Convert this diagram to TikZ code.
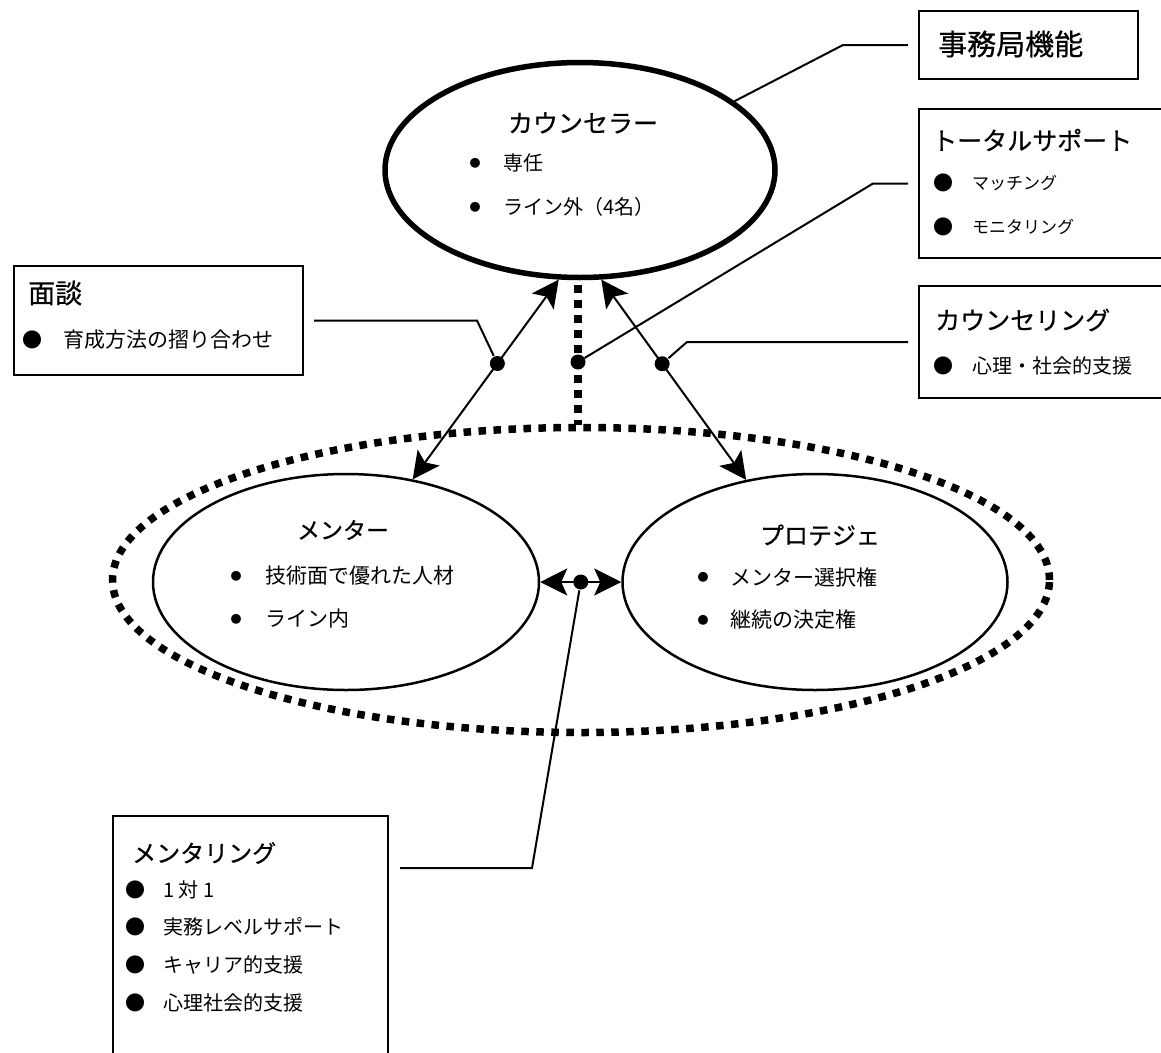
\documentclass[tikz,border=0pt]{standalone}
\usepackage{fontspec}
\setmainfont{Liberation Serif}
\newfontfamily\jp{Noto Sans CJK JP}
\newfontfamily\jpb[FakeBold=0.6]{Noto Sans CJK JP}
\usetikzlibrary{arrows.meta,shapes.geometric}
\begin{document}
\begin{tikzpicture}[x=1pt,y=-1pt,
  box/.style={draw, line width=2pt, inner sep=0pt, anchor=north west},
  conn/.style={line width=2pt},
  dotted7/.style={line width=7.5pt, dash pattern=on 7.5pt off 7.5pt},
  ell/.style={ellipse, draw, inner sep=0pt},
  txt/.style={inner sep=0pt, anchor=west, font=\jp\fontsize{#1}{#1}\selectfont},
  ttl/.style={inner sep=0pt, anchor=west, font=\jpb\fontsize{#1}{#1}\selectfont},
  ctxt/.style={inner sep=0pt, font=\jpb\fontsize{#1}{#1}\selectfont},
  bigdot/.style={inner sep=0pt, font=\jp\fontsize{20}{20}\selectfont},
  smalldot/.style={inner sep=0pt, font=\jp\fontsize{11}{11}\selectfont},
  junction/.style={circle, fill, inner sep=0pt, minimum size=15pt},
  arrboth/.style={line width=2pt, {Stealth[length=27pt,width=27pt,inset=6pt]}-{Stealth[length=27pt,width=27pt,inset=6pt]}},
]
\useasboundingbox (0,0) rectangle (1161,1052);
\fill[white] (0,0) rectangle (1161,1052);

% ellipses
\node[ell, line width=5.5pt, minimum width=390pt, minimum height=215pt] (couns) at (580,170) {};
\node[ell, line width=2.5pt, minimum width=386pt, minimum height=216pt] (mentor) at (346,582) {};
\node[ell, line width=2.5pt, minimum width=385pt, minimum height=216pt] (prot) at (815,582) {};
\node[ell, dotted7, minimum width=937pt, minimum height=305pt] (group) at (581,580) {};

% counselor text
\node[ctxt=25] (cT) at (583,123) {カウンセラー};
\node[smalldot] (cb1) at (475,163) {●};
\node[txt=20] (c1) at (503,163) {専任};
\node[smalldot] (cb2) at (475,207) {●};
\node[txt=20] (c2) at (503,207) {ライン外（4名）};

% mentor text
\node[ctxt=23] (mT) at (343,530) {メンター};
\node[smalldot] (mb1) at (236,576) {●};
\node[txt=21] (m1) at (265,576) {技術面で優れた人材};
\node[smalldot] (mb2) at (236,619) {●};
\node[txt=21] (m2) at (265,619) {ライン内};

% protege text
\node[ctxt=24] (pT) at (820,535) {プロテジェ};
\node[smalldot] (pb1) at (703,577) {●};
\node[txt=21] (p1) at (730,577) {メンター選択権};
\node[smalldot] (pb2) at (703,620) {●};
\node[txt=21] (p2) at (730,620) {継続の決定権};

% boxes
\node[box, minimum width=219pt, minimum height=68pt] (jimu) at (918,10) {};
\node[ttl=29] (jimuT) at (938,44) {事務局機能};

\node[box, minimum width=260pt, minimum height=149pt] (total) at (918,108) {};
\node[ttl=25] (totalT) at (932,140) {トータルサポート};
\node[bigdot] (tb1) at (943,183) {●};
\node[txt=17] (t1) at (972,183) {マッチング};
\node[bigdot] (tb2) at (943,227) {●};
\node[txt=17] (t2) at (972,227) {モニタリング};

\node[box, minimum width=260pt, minimum height=112pt] (csl) at (918,285) {};
\node[ttl=25] (cslT) at (935,320) {カウンセリング};
\node[bigdot] (sb1) at (943,366) {●};
\node[txt=20] (s1) at (972,366) {心理・社会的支援};

\node[box, minimum width=289pt, minimum height=109pt] (mendan) at (13,265) {};
\node[ttl=27] (mendanT) at (28,293) {面談};
\node[bigdot] (db1) at (33,340) {●};
\node[txt=21] (dd1) at (63,340) {育成方法の摺り合わせ};

\node[box, minimum width=275pt, minimum height=260pt] (ment) at (112,815) {};
\node[ttl=24] (mentT) at (132,853) {メンタリング};
\node[bigdot] (eb1) at (135,890) {●};
\node[txt=20] (e1) at (163,890) {1 対 1};
\node[bigdot] (eb2) at (135,927) {●};
\node[txt=20] (e2) at (163,927) {実務レベルサポート};
\node[bigdot] (eb3) at (135,965) {●};
\node[txt=20] (e3) at (163,965) {キャリア的支援};
\node[bigdot] (eb4) at (135,1003) {●};
\node[txt=20] (e4) at (163,1003) {心理社会的支援};

% arrows and dotted link
\draw[dotted7] (578,285) -- (578,425);
\draw[arrboth] (couns.259) -- (mentor.57) node[pos=0.42, junction] (d1) {};
\draw[arrboth] (couns.281) -- (prot.124) node[pos=0.42, junction] (d3) {};
\node[junction] (d2) at (578,362) {};
\draw[arrboth] (mentor.east) -- (prot.west) node[midway, junction] (d4) {};

% connectors
\draw[conn] ([xshift=10pt]mendan.east) -- ([xshift=173pt]mendan.east) -- (d1);
\draw[conn] (couns.24) -- ([xshift=-75pt]jimu.west) -- ([xshift=-10pt]jimu.west);
\draw[conn] (d2) -- ([xshift=-45pt]total.west) -- ([xshift=-10pt]total.west);
\draw[conn] (d3) -- ([xshift=-231pt]csl.west) -- ([xshift=-10pt]csl.west);
\coordinate (mk1) at (532,868);
\coordinate (mk2) at (400,868);
\draw[conn] (d4) -- (mk1) -- (mk2);
\end{tikzpicture}
\end{document}
